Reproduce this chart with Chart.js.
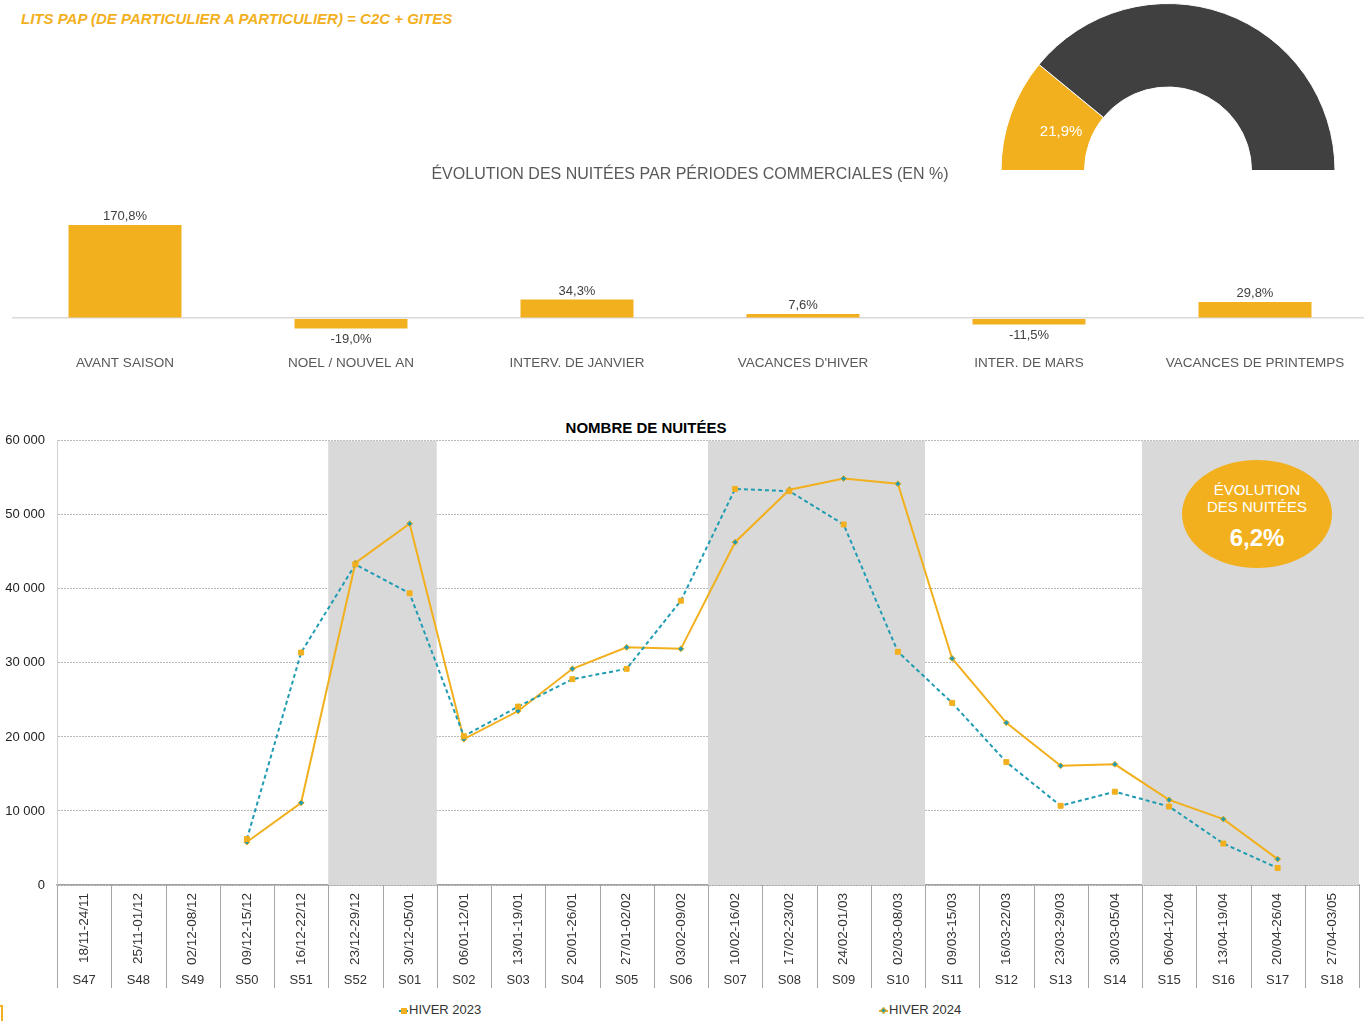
<!DOCTYPE html>
<html>
<head>
<meta charset="utf-8">
<script src="https://cdn.jsdelivr.net/npm/chart.js@4.4.0/dist/chart.umd.min.js"></script>
<style>
  body { margin: 0; width: 1364px; height: 1021px; overflow: hidden; background: #fff; font-family: "Liberation Sans", Arial, sans-serif; position: relative; }
  .abs { position: absolute; }
  #title { left: 21px; top: 10px; font-size: 15px; font-weight: bold; font-style: italic; color: #F2B01E; line-height: 17px; white-space: nowrap; }
  #barTitle { left: 0; width: 1380px; top: 164px; text-align: center; font-size: 16px; color: #595959; line-height: 20px; }
  #lineTitle { left: 446px; width: 400px; top: 419px; text-align: center; font-size: 15px; font-weight: bold; color: #000; line-height: 18px; }
  #bubble { left: 1182px; top: 460px; width: 150px; height: 108px; border-radius: 50%; background: #F2B01E; color: #fff; text-align: center; }
  #bubble .t { font-size: 15px; line-height: 17px; margin-top: 21px; }
  #bubble .v { font-size: 24px; font-weight: bold; margin-top: 9px; }
  .leg { top: 1002px; font-size: 13px; color: #333; line-height: 16px; white-space: nowrap; }
  .mk { display: inline-block; position: relative; width: 9px; height: 10px; vertical-align: middle; margin-right: 1px; }
  .mk .ln { position: absolute; left: 0; right: 0; top: 4px; height: 2px; }
  .mk .pt { position: absolute; }
</style>
</head>
<body>
<div id="title" class="abs">LITS PAP (DE PARTICULIER A PARTICULIER) = C2C + GITES</div>
<canvas id="gauge" class="abs" width="336" height="168" style="left:1000px;top:3px;"></canvas>
<div id="barTitle" class="abs">ÉVOLUTION DES NUITÉES PAR PÉRIODES COMMERCIALES (EN %)</div>
<canvas id="bars" class="abs" width="1356" height="175" style="left:12px;top:200px;"></canvas>
<div id="lineTitle" class="abs">NOMBRE DE NUITÉES</div>
<canvas id="lines" class="abs" width="1364" height="574" style="left:0;top:421px;"></canvas>
<div id="bubble" class="abs"><div class="t">ÉVOLUTION<br>DES NUITÉES</div><div class="v">6,2%</div></div>
<div class="abs leg" style="left:399px;"><span class="mk"><span class="ln" style="background:#1F9CB2"></span><span class="pt" style="left:2px;top:2px;width:6px;height:6px;background:#F2B01E"></span></span>HIVER 2023</div>
<div class="abs leg" style="left:879px;"><span class="mk"><span class="ln" style="background:#F2B01E"></span><span class="pt" style="left:2px;top:2px;width:5px;height:5px;background:#1F9CB2;border:1px solid #F2B01E;transform:rotate(45deg);box-sizing:border-box"></span></span>HIVER 2024</div>
<div class="abs" style="left:0;top:1005px;width:3px;height:16px;border-top:2px solid #F2B01E;border-right:2px solid #F2B01E;box-sizing:border-box"></div>
<script>
const orange = '#F2B01E';
const teal = '#1F9CB2';

// gauge
const gaugeLabels = ['Lits PAP', 'Autres'];
const gaugeValues = [21.9, 78.1];

// evolution par periodes commerciales
const periodes = ['AVANT SAISON', 'NOEL / NOUVEL AN', 'INTERV. DE JANVIER', "VACANCES D'HIVER", 'INTER. DE MARS', 'VACANCES DE PRINTEMPS'];
const evolPeriodes = [170.8, -19.0, 34.3, 7.6, -11.5, 29.8];

// nombre de nuitees par semaine
const semaines = ['S47','S48','S49','S50','S51','S52','S01','S02','S03','S04','S05','S06','S07','S08','S09','S10','S11','S12','S13','S14','S15','S16','S17','S18'];
const dates = ['18/11-24/11','25/11-01/12','02/12-08/12','09/12-15/12','16/12-22/12','23/12-29/12','30/12-05/01','06/01-12/01','13/01-19/01','20/01-26/01','27/01-02/02','03/02-09/02','10/02-16/02','17/02-23/02','24/02-01/03','02/03-08/03','09/03-15/03','16/03-22/03','23/03-29/03','30/03-05/04','06/04-12/04','13/04-19/04','20/04-26/04','27/04-03/05'];
const hiver2023 = [null,null,null,6200,31400,43300,39400,20100,24100,27800,29200,38400,53500,53200,48700,31500,24600,16600,10700,12600,10600,5600,2300,null];
const hiver2024 = [null,null,null,5800,11100,43500,48800,19700,23500,29200,32100,31900,46300,53400,54900,54200,30600,21900,16100,16300,11500,8900,3500,null];
// periodes de vacances (index debut, index fin)
const vacances = [[5,6],[12,15],[20,23]];

const fr = v => v.toFixed(1).replace('.', ',') + '%';
const milliers = v => String(v).replace(/\B(?=(\d{3})+(?!\d))/g, ' ');

new Chart(document.getElementById('gauge'), {
  type: 'doughnut',
  data: {
    labels: gaugeLabels,
    datasets: [{ data: gaugeValues, backgroundColor: [orange, '#404040'], borderColor: '#fff', borderWidth: 1 }]
  },
  options: {
    responsive: false,
    animation: false,
    rotation: -90,
    circumference: 180,
    cutout: '50%',
    plugins: { legend: { display: false }, tooltip: { enabled: false } }
  },
  plugins: [{
    id: 'gaugeLabel',
    afterDatasetsDraw(chart) {
      const arc = chart.getDatasetMeta(0).data[0];
      const p = arc.getCenterPoint();
      const c = chart.ctx;
      c.save();
      c.fillStyle = '#fff';
      c.font = '15px "Liberation Sans", Arial';
      c.textAlign = 'center';
      c.textBaseline = 'middle';
      c.fillText(fr(gaugeValues[0]), p.x + 11, p.y + 4);
      c.restore();
    }
  }]
});

new Chart(document.getElementById('bars'), {
  type: 'bar',
  data: {
    labels: periodes,
    datasets: [{ data: evolPeriodes, backgroundColor: orange, barPercentage: 0.5, categoryPercentage: 1 }]
  },
  options: {
    responsive: false,
    animation: false,
    layout: { padding: { top: 9, left: 0, right: 0, bottom: 0 } },
    scales: {
      x: {
        grid: { display: false, drawTicks: false },
        border: { display: false },
        ticks: { color: '#595959', font: { size: 13.5, family: '"Liberation Sans", Arial' }, padding: 4, maxRotation: 0 },
        afterFit: s => { s.height = 24; }
      },
      y: {
        min: -60, max: 200,
        ticks: { display: false, stepSize: 20 },
        border: { display: false },
        grid: { drawTicks: false, lineWidth: 1.5, color: c => c.tick.value === 0 ? '#d9d9d9' : 'transparent' },
        afterFit: s => { s.width = 0; }
      }
    },
    plugins: { legend: { display: false }, tooltip: { enabled: false } }
  },
  plugins: [{
    id: 'barLabels',
    afterDatasetsDraw(chart) {
      const c = chart.ctx;
      c.save();
      c.fillStyle = '#404040';
      c.font = '13px "Liberation Sans", Arial';
      c.textAlign = 'center';
      chart.getDatasetMeta(0).data.forEach((bar, i) => {
        const v = evolPeriodes[i];
        if (v >= 0) { c.textBaseline = 'bottom'; c.fillText(fr(v), bar.x, bar.y - 2); }
        else { c.textBaseline = 'top'; c.fillText(fr(v), bar.x, bar.y + 4); }
      });
      c.restore();
    }
  }]
});

new Chart(document.getElementById('lines'), {
  type: 'line',
  data: {
    labels: dates,
    datasets: [
      {
        label: 'HIVER 2023', data: hiver2023,
        borderColor: teal, borderWidth: 2, borderDash: [4, 3],
        pointStyle: 'rect', pointRadius: 3.5, pointBackgroundColor: orange, pointBorderColor: orange, pointBorderWidth: 1
      },
      {
        label: 'HIVER 2024', data: hiver2024,
        borderColor: orange, borderWidth: 2,
        pointStyle: 'rectRot', pointRadius: 3, pointBackgroundColor: teal, pointBorderColor: orange, pointBorderWidth: 1
      }
    ]
  },
  options: {
    responsive: false,
    animation: false,
    layout: { padding: { top: 0, left: 0, right: 5, bottom: 0 } },
    scales: {
      x: {
        weight: 0,
        offset: true,
        grid: { display: false, drawTicks: false },
        border: { display: true, color: '#a0a0a0', width: 1.5 },
        ticks: { autoSkip: false, minRotation: 90, maxRotation: 90, padding: 8, color: '#333', font: { size: 13.5, family: '"Liberation Sans", Arial' } },
        afterFit: s => { s.height = 85; }
      },
      x2: {
        type: 'category', position: 'bottom', weight: 1,
        offset: true,
        labels: semaines,
        grid: { display: false, drawTicks: false },
        border: { display: false },
        ticks: { autoSkip: false, maxRotation: 0, padding: 3, color: '#333', font: { size: 13, family: '"Liberation Sans", Arial' } },
        afterFit: s => { s.height = 25; }
      },
      y: {
        min: 0, max: 60000,
        ticks: { stepSize: 10000, padding: 12, color: '#222', font: { size: 13, family: '"Liberation Sans", Arial' }, callback: v => milliers(v) },
        grid: { drawTicks: false, color: '#b8b8b8' },
        border: { display: true, color: '#cfcfcf', dash: [2, 1] },
        afterFit: s => { s.width = 57; }
      }
    },
    plugins: { legend: { display: false }, tooltip: { enabled: false } }
  },
  plugins: [{
    id: 'vacances',
    beforeDatasetsDraw(chart) {
      const x = chart.scales.x, a = chart.chartArea, c = chart.ctx;
      const half = (x.getPixelForValue(1) - x.getPixelForValue(0)) / 2;
      c.save();
      c.fillStyle = '#d9d9d9';
      vacances.forEach(([i0, i1]) => {
        const x0 = x.getPixelForValue(i0) - half, x1 = x.getPixelForValue(i1) + half;
        c.fillRect(x0, a.top, x1 - x0, a.bottom - a.top);
      });
      c.restore();
    },
    afterDraw(chart) {
      const x = chart.scales.x, a = chart.chartArea, c = chart.ctx;
      const half = (x.getPixelForValue(1) - x.getPixelForValue(0)) / 2;
      c.save();
      c.strokeStyle = '#a6a6a6';
      c.lineWidth = 1;
      for (let i = 0; i <= dates.length; i++) {
        const px = Math.round(x.getPixelForValue(i) - half) + 0.5;
        c.beginPath();
        c.moveTo(px, a.bottom);
        c.lineTo(px, a.bottom + 103);
        c.stroke();
      }
      c.restore();
    }
  }]
});
</script>
</body>
</html>
